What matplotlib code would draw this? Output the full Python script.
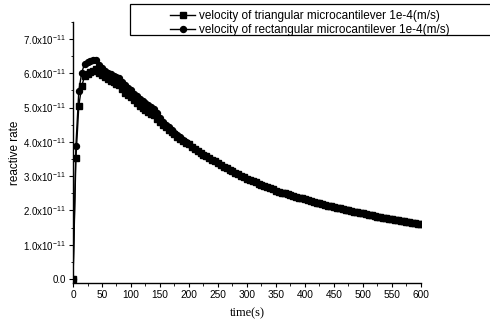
import matplotlib
matplotlib.use("Agg")
import matplotlib.pyplot as plt
import matplotlib.patches as mpatches
from matplotlib.ticker import MultipleLocator, FuncFormatter
import numpy as np

# --- data (rate in units of 1e-11) ---
time_s = np.arange(0, 601, 5)

# 0 .. 195 s, the two curves differ
tri_head = [0.00, 3.52, 5.05, 5.62, 5.92, 5.97, 6.03, 6.08, 6.12, 6.02,
            5.96, 5.88, 5.83, 5.78, 5.74, 5.70, 5.66, 5.53, 5.43, 5.36,
            5.30, 5.22, 5.14, 5.06, 4.99, 4.93, 4.87, 4.82, 4.78, 4.68,
            4.58, 4.50, 4.43, 4.36, 4.29, 4.22, 4.15, 4.09, 4.03, 3.98]
rect_head = [0.00, 3.88, 5.48, 6.02, 6.28, 6.33, 6.36, 6.38, 6.40, 6.25,
             6.16, 6.08, 6.02, 5.97, 5.93, 5.89, 5.85, 5.75, 5.65, 5.57,
             5.50, 5.41, 5.33, 5.26, 5.20, 5.14, 5.08, 5.03, 4.97, 4.84,
             4.70, 4.59, 4.50, 4.42, 4.34, 4.27, 4.20, 4.13, 4.06, 3.99]
# 200 .. 600 s, both curves overlap
tail = [3.93, 3.86, 3.80, 3.74, 3.68, 3.63, 3.58, 3.53, 3.48, 3.43,
        3.38, 3.33, 3.28, 3.23, 3.19, 3.15, 3.10, 3.06, 3.01, 2.97,
        2.93, 2.89, 2.85, 2.82, 2.78, 2.75, 2.71, 2.68, 2.64, 2.61,
        2.58, 2.55, 2.52, 2.50, 2.47, 2.45, 2.42, 2.40, 2.37, 2.35,
        2.32, 2.30, 2.27, 2.25, 2.23, 2.21, 2.19, 2.17, 2.14, 2.12,
        2.10, 2.08, 2.06, 2.04, 2.02, 2.00, 1.98, 1.96, 1.95, 1.93,
        1.91, 1.89, 1.87, 1.86, 1.84, 1.82, 1.81, 1.79, 1.77, 1.76,
        1.74, 1.72, 1.71, 1.69, 1.68, 1.66, 1.65, 1.64, 1.62, 1.61,
        1.59]

tri_rate = np.array(tri_head + tail) * 1e-11
rect_rate = np.array(rect_head + tail) * 1e-11

labels = ["velocity of triangular microcantilever 1e-4(m/s)",
          "velocity of rectangular microcantilever 1e-4(m/s)"]

plt.rcParams['font.family'] = ['Liberation Sans', 'DejaVu Sans']

fig = plt.figure(figsize=(4.9, 3.22), dpi=100)
ax = fig.add_axes([0.149, 0.121, 0.710, 0.811])

l1, = ax.plot(time_s, tri_rate, '-s', color='black', lw=1.0, ms=4.0)
l2, = ax.plot(time_s, rect_rate, '-o', color='black', lw=1.0, ms=4.3)

ax.set_xlim(0, 600)
ax.set_ylim(-0.12e-11, 7.5e-11)
ax.spines['top'].set_visible(False)
ax.spines['right'].set_visible(False)
for s in ('left', 'bottom'):
    ax.spines[s].set_linewidth(1.0)

ax.xaxis.set_major_locator(MultipleLocator(50))
ax.xaxis.set_minor_locator(MultipleLocator(25))
ax.yaxis.set_major_locator(MultipleLocator(1e-11))
ax.yaxis.set_minor_locator(MultipleLocator(0.5e-11))


def yfmt(v, pos):
    m = v / 1e-11
    if abs(m) < 1e-6:
        return "0.0"
    return r"%.1fx10$^{\mathregular{-11}}$" % m


ax.yaxis.set_major_formatter(FuncFormatter(yfmt))
ax.tick_params(which='major', direction='out', length=3, width=0.8, pad=2)
ax.tick_params(axis='y', which='major', labelsize=7)
ax.tick_params(axis='x', which='major', labelsize=7.3)
ax.tick_params(which='minor', direction='out', length=1.8, width=0.6)

ax.set_xlabel("time(s)", family=['Liberation Serif'], fontsize=9, labelpad=5)
ax.set_ylabel("reactive rate", fontsize=8.5, labelpad=2)

# legend box sits in figure coords, running off the right edge
box = mpatches.Rectangle((130 / 490, 1 - 35 / 322), 365 / 490, 31 / 322,
                         transform=fig.transFigure, facecolor='white',
                         edgecolor='black', lw=0.9, clip_on=False)
fig.patches.append(box)
fig.legend([l1, l2], labels, loc='upper left',
           bbox_to_anchor=(162 / 490, 1 - 2 / 322), frameon=False,
           fontsize=8.5, handlelength=2.1, handletextpad=0.3,
           labelspacing=0.12, borderpad=0.2)

fig.savefig("out.png", dpi=100)
